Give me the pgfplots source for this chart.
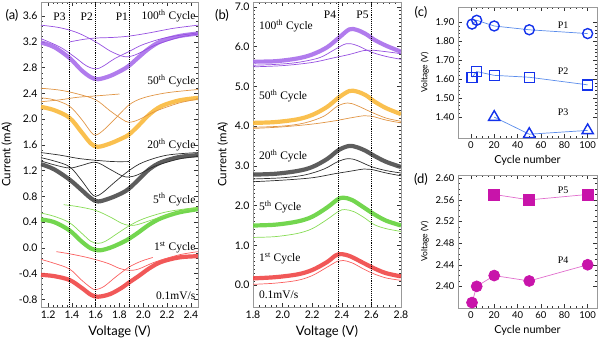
\documentclass[border=0pt]{standalone}
\usepackage{pgfplots}
\pgfplotsset{compat=1.18}
\usepackage{fontspec}
\setmainfont{Lato}
\newfontfamily\tnr{Liberation Serif}

% curve colours
\definecolor{purpK}{RGB}{168,110,235}
\definecolor{purpT}{RGB}{150,80,225}
\definecolor{oranK}{RGB}{250,185,60}
\definecolor{oranT}{RGB}{225,150,70}
\definecolor{blakK}{RGB}{75,75,75}
\definecolor{blakT}{RGB}{45,45,45}
\definecolor{grenK}{RGB}{100,210,60}
\definecolor{grenT}{RGB}{135,220,85}
\definecolor{redK}{RGB}{240,70,70}
\definecolor{redT}{RGB}{250,95,95}
\definecolor{pblue}{RGB}{20,50,235}
\definecolor{lblue}{RGB}{90,140,235}
\definecolor{pmag}{RGB}{200,20,170}
\definecolor{lmag}{RGB}{225,110,205}

\pgfplotsset{
  panel/.style={
    scale only axis,
    axis line style={gray!80},
    tick style={black!80, line width=0.5pt},
    tick align=inside,
    major tick length=4pt,
    minor tick length=2pt,
    /pgf/number format/assume math mode=true,
    tick label style={font=\fontsize{10.5}{12}\selectfont},
    xlabel style={font=\fontsize{13}{15}\selectfont},
    ylabel style={font=\fontsize{11.5}{13}\selectfont},
  },
}
\tikzset{
  thick curve/.style={line width=4.2pt, smooth, tension=0.55, opacity=0.9},
  thin curve/.style={line width=0.7pt, smooth, tension=0.55},
  peakline/.style={black, line width=0.9pt, densely dotted},
  ann/.style={font=\tnr\fontsize{11.5}{13}\selectfont, inner sep=0pt},
  annS/.style={font=\tnr\fontsize{10}{12}\selectfont, inner sep=0pt},
  fmt1/.style={/pgf/number format/.cd, fixed, fixed zerofill, precision=1},
  fmt2/.style={/pgf/number format/.cd, fixed, fixed zerofill, precision=2},
}

\begin{document}
\begin{tikzpicture}[x=1pt,y=1pt]
\useasboundingbox (0,0) rectangle (600,341);

% ---------------- (a) reduction sweeps ----------------
\begin{axis}[panel, at={(41pt,34pt)}, anchor=south west,
  width=157pt, height=305pt,
  xmin=1.14, xmax=2.46, ymin=-0.92, ymax=3.82,
  xtick={1.2,1.4,1.6,1.8,2.0,2.2,2.4},
  ytick={-0.8,-0.4,0,0.4,0.8,1.2,1.6,2.0,2.4,2.8,3.2,3.6},
  minor x tick num=4, minor y tick num=4,
  xticklabel style={fmt1}, yticklabel style={fmt1},
  xlabel={Voltage (V)}, ylabel={Current (mA)}]
% 100th cycle
\addplot[purpK, thick curve] coordinates {(1.14,3.19) (1.25,3.12) (1.38,2.95) (1.48,2.76) (1.56,2.65) (1.62,2.62) (1.72,2.67) (1.82,2.76) (1.88,2.83) (1.96,2.96) (2.05,3.1) (2.15,3.21) (2.3,3.29) (2.46,3.33)};
\addplot[purpT, thin curve] coordinates {(1.14,3.46) (1.3,3.42) (1.45,3.34) (1.6,3.2) (1.72,3.06) (1.82,2.98) (1.88,2.97) (1.96,3.02) (2.1,3.15) (2.3,3.27) (2.46,3.32)};
\addplot[purpT, thin curve] coordinates {(1.14,3.25) (1.3,3.12) (1.42,2.97) (1.52,2.83) (1.6,2.78) (1.66,2.82) (1.76,2.94) (1.88,3.05) (2.0,3.16) (2.2,3.27) (2.46,3.34)};
\addplot[purpT, thin curve] coordinates {(1.38,3.2) (1.5,3.24) (1.6,3.26) (1.75,3.27) (1.88,3.29) (2.05,3.34) (2.25,3.41) (2.46,3.46)};
% 50th cycle
\addplot[oranK, thick curve] coordinates {(1.14,2.19) (1.25,2.14) (1.38,2.02) (1.48,1.8) (1.56,1.62) (1.62,1.57) (1.72,1.62) (1.82,1.7) (1.88,1.76) (1.96,1.9) (2.05,2.07) (2.15,2.2) (2.3,2.29) (2.46,2.33)};
\addplot[oranT, thin curve] coordinates {(1.14,2.33) (1.25,2.3) (1.38,2.2) (1.48,2.0) (1.56,1.8) (1.6,1.75) (1.66,1.82) (1.75,1.98) (1.88,2.22) (2.0,2.33) (2.2,2.41) (2.46,2.46)};
\addplot[oranT, thin curve] coordinates {(1.14,2.48) (1.3,2.45) (1.45,2.39) (1.6,2.3) (1.72,2.13) (1.82,2.0) (1.88,1.95) (1.96,1.99) (2.1,2.12) (2.3,2.25) (2.46,2.31)};
\addplot[oranT, thin curve] coordinates {(1.14,2.27) (1.3,2.3) (1.45,2.34) (1.6,2.36) (1.8,2.39)};
% 20th cycle
\addplot[blakK, thick curve] coordinates {(1.14,1.3) (1.25,1.22) (1.38,1.06) (1.48,0.9) (1.56,0.77) (1.62,0.72) (1.72,0.77) (1.82,0.85) (1.88,0.92) (1.96,1.06) (2.05,1.22) (2.15,1.33) (2.3,1.41) (2.46,1.44)};
\addplot[blakT, thin curve] coordinates {(1.14,1.4) (1.25,1.35) (1.38,1.26) (1.48,1.05) (1.56,0.85) (1.6,0.8) (1.66,0.86) (1.76,1.02) (1.88,1.2) (2.0,1.33) (2.2,1.44) (2.46,1.48)};
\addplot[blakT, thin curve] coordinates {(1.14,1.35) (1.25,1.29) (1.38,1.24) (1.48,1.28) (1.6,1.33) (1.72,1.22) (1.82,1.12) (1.88,1.1) (1.96,1.14) (2.1,1.27) (2.3,1.38) (2.46,1.42)};
\addplot[blakT, thin curve] coordinates {(1.14,1.48) (1.3,1.44) (1.45,1.39) (1.6,1.36) (1.75,1.34) (1.88,1.34)};
% 5th cycle
\addplot[grenK, thick curve] coordinates {(1.14,0.44) (1.25,0.4) (1.38,0.27) (1.48,0.1) (1.56,-0.01) (1.63,-0.04) (1.72,0.0) (1.82,0.08) (1.88,0.14) (1.96,0.24) (2.05,0.36) (2.15,0.46) (2.3,0.55) (2.46,0.6)};
\addplot[grenT, thin curve] coordinates {(1.14,0.54) (1.25,0.49) (1.38,0.39) (1.48,0.23) (1.56,0.1) (1.62,0.07) (1.68,0.1) (1.78,0.22) (1.88,0.34) (2.0,0.45) (2.2,0.56) (2.46,0.63)};
\addplot[grenT, thin curve] coordinates {(1.33,0.67) (1.45,0.64) (1.6,0.58) (1.72,0.48) (1.82,0.38) (1.88,0.35) (1.95,0.36) (2.1,0.45) (2.3,0.56) (2.46,0.62)};
% 1st cycle
\addplot[redK, thick curve] coordinates {(1.14,-0.42) (1.25,-0.44) (1.38,-0.5) (1.48,-0.62) (1.56,-0.73) (1.62,-0.76) (1.72,-0.72) (1.82,-0.62) (1.88,-0.54) (1.96,-0.44) (2.05,-0.32) (2.15,-0.22) (2.3,-0.15) (2.46,-0.13)};
\addplot[redT, thin curve] coordinates {(1.14,-0.18) (1.25,-0.24) (1.38,-0.33) (1.48,-0.5) (1.56,-0.62) (1.6,-0.65) (1.67,-0.6) (1.77,-0.45) (1.88,-0.3) (1.98,-0.21) (2.08,-0.15)};
\addplot[redT, thin curve] coordinates {(1.27,-0.06) (1.4,-0.1) (1.55,-0.16) (1.7,-0.24) (1.8,-0.32) (1.88,-0.35) (1.96,-0.33) (2.1,-0.22) (2.3,-0.11) (2.46,-0.06)};
% peak positions
\addplot[peakline] coordinates {(1.38,-0.92) (1.38,3.82)};
\addplot[peakline] coordinates {(1.60,-0.92) (1.60,3.82)};
\addplot[peakline] coordinates {(1.88,-0.92) (1.88,3.82)};
\node[ann] at (axis cs:1.295,3.59) {P3};
\node[ann] at (axis cs:1.525,3.59) {P2};
\node[ann] at (axis cs:1.82,3.59) {P1};
\node[ann, anchor=east] at (axis cs:2.44,3.6) {100\textsuperscript{th} Cycle};
\node[ann, anchor=east] at (axis cs:2.44,2.59) {50\textsuperscript{th} Cycle};
\node[ann, anchor=east] at (axis cs:2.44,1.6) {20\textsuperscript{th} Cycle};
\node[ann, anchor=east] at (axis cs:2.44,0.75) {5\textsuperscript{th} Cycle};
\node[ann, anchor=east] at (axis cs:2.44,0.01) {1\textsuperscript{st} Cycle};
\node[ann, anchor=east] at (axis cs:2.44,-0.74) {0.1mV/s};
\end{axis}

% ---------------- (b) oxidation sweeps ----------------
\begin{axis}[panel, at={(253pt,34pt)}, anchor=south west,
  width=148pt, height=305pt,
  xmin=1.8, xmax=2.8, ymin=-0.55, ymax=7.12,
  xtick={1.8,2.0,2.2,2.4,2.6,2.8},
  ytick={0,1,2,3,4,5,6,7},
  minor x tick num=4, minor y tick num=9,
  xticklabel style={fmt1}, yticklabel style={fmt1},
  xlabel={Voltage (V)}, ylabel={Current (mA)}]
% 100th cycle
\addplot[purpK, thick curve] coordinates {(1.8,5.62) (1.95,5.63) (2.1,5.7) (2.2,5.8) (2.3,5.98) (2.38,6.22) (2.45,6.43) (2.5,6.42) (2.56,6.32) (2.62,6.17) (2.7,6.02) (2.8,5.87)};
\addplot[purpT, thin curve] coordinates {(1.8,5.53) (1.95,5.55) (2.1,5.6) (2.25,5.72) (2.35,5.92) (2.43,6.07) (2.5,6.03) (2.6,5.86) (2.7,5.75) (2.8,5.68)};
\addplot[purpT, thin curve] coordinates {(1.8,5.49) (2.0,5.52) (2.2,5.6) (2.35,5.72) (2.45,5.8) (2.55,5.9) (2.6,5.91) (2.7,5.87) (2.8,5.82)};
% 50th cycle
\addplot[oranK, thick curve] coordinates {(1.8,4.08) (1.95,4.1) (2.1,4.17) (2.2,4.28) (2.3,4.48) (2.38,4.72) (2.45,4.88) (2.5,4.87) (2.56,4.78) (2.62,4.62) (2.7,4.45) (2.8,4.3)};
\addplot[oranT, thin curve] coordinates {(1.8,3.97) (2.0,4.0) (2.15,4.08) (2.28,4.25) (2.37,4.5) (2.44,4.58) (2.5,4.52) (2.6,4.35) (2.7,4.2) (2.8,4.12)};
\addplot[oranT, thin curve] coordinates {(1.8,3.94) (2.0,3.98) (2.2,4.05) (2.35,4.13) (2.45,4.2) (2.55,4.26) (2.6,4.25) (2.7,4.15) (2.8,4.08)};
% 20th cycle
\addplot[blakK, thick curve] coordinates {(1.8,2.78) (1.95,2.8) (2.1,2.87) (2.2,2.97) (2.3,3.17) (2.38,3.4) (2.45,3.5) (2.5,3.47) (2.56,3.38) (2.62,3.25) (2.7,3.1) (2.8,2.97)};
\addplot[blakT, thin curve] coordinates {(1.8,2.67) (2.0,2.7) (2.15,2.77) (2.28,2.92) (2.37,3.1) (2.44,3.18) (2.5,3.14) (2.6,2.98) (2.7,2.88) (2.8,2.82)};
\addplot[blakT, thin curve] coordinates {(1.8,2.6) (2.0,2.64) (2.2,2.7) (2.35,2.8) (2.45,2.86) (2.55,2.92) (2.6,2.91) (2.7,2.82) (2.8,2.75)};
% 5th cycle
\addplot[grenK, thick curve] coordinates {(1.8,1.5) (1.95,1.52) (2.1,1.6) (2.2,1.72) (2.3,1.95) (2.37,2.15) (2.41,2.2) (2.47,2.14) (2.55,1.95) (2.62,1.78) (2.7,1.62) (2.8,1.5)};
\addplot[grenT, thin curve] coordinates {(1.8,1.2) (1.95,1.22) (2.1,1.3) (2.2,1.42) (2.3,1.65) (2.38,1.86) (2.42,1.9) (2.48,1.85) (2.55,1.7) (2.62,1.52) (2.7,1.42) (2.8,1.35)};
% 1st cycle
\addplot[redK, thick curve] coordinates {(1.8,0.17) (1.95,0.2) (2.1,0.27) (2.2,0.38) (2.3,0.58) (2.36,0.75) (2.4,0.78) (2.46,0.72) (2.55,0.55) (2.62,0.42) (2.7,0.3) (2.8,0.22)};
\addplot[redT, thin curve] coordinates {(1.8,0.02) (1.95,0.05) (2.1,0.12) (2.2,0.24) (2.3,0.45) (2.37,0.6) (2.41,0.62) (2.47,0.56) (2.55,0.4) (2.62,0.28) (2.7,0.18) (2.8,0.12)};
% peak positions
\addplot[peakline] coordinates {(2.38,-0.55) (2.38,7.12)};
\addplot[peakline] coordinates {(2.60,-0.55) (2.60,7.12)};
\node[ann] at (axis cs:2.32,6.8) {P4};
\node[ann] at (axis cs:2.54,6.8) {P5};
\node[ann, anchor=west] at (axis cs:1.84,6.52) {100\textsuperscript{th} Cycle};
\node[ann, anchor=west] at (axis cs:1.84,4.75) {50\textsuperscript{th} Cycle};
\node[ann, anchor=west] at (axis cs:1.84,3.25) {20\textsuperscript{th} Cycle};
\node[ann, anchor=west] at (axis cs:1.84,1.97) {5\textsuperscript{th} Cycle};
\node[ann, anchor=west] at (axis cs:1.84,0.67) {1\textsuperscript{st} Cycle};
\node[ann, anchor=west] at (axis cs:1.84,-0.25) {0.1mV/s};
\end{axis}

% ---------------- (c) reduction peak positions ----------------
\begin{axis}[panel, at={(458pt,203pt)}, anchor=south west,
  width=139pt, height=131pt,
  xmin=-11, xmax=108, ymin=1.29, ymax=1.98,
  xtick={0,20,40,60,80,100},
  ytick={1.4,1.5,1.6,1.7,1.8,1.9},
  minor x tick num=3, minor y tick num=4,
  yticklabel style={fmt2},
  tick label style={font=\fontsize{9.5}{11}\selectfont},
  xlabel={Cycle number}, ylabel={Voltage (V)},
  xlabel style={font=\fontsize{11}{13}\selectfont},
  ylabel style={font=\fontsize{8.5}{10}\selectfont},
  clip=false]
\addplot[lblue, line width=0.7pt, mark=o, mark size=5pt, mark options={pblue, line width=1.4pt}] coordinates {(1,1.89) (5,1.91) (20,1.88) (50,1.86) (100,1.84)};
\addplot[lblue, line width=0.7pt, mark=square, mark size=5pt, mark options={pblue, line width=1.4pt}] coordinates {(1,1.61) (5,1.64) (20,1.62) (50,1.61) (100,1.57)};
\addplot[lblue, line width=0.7pt, mark=triangle, mark size=6.5pt, mark options={pblue, line width=1.4pt}] coordinates {(20,1.40) (50,1.31) (100,1.33)};
\node[annS] at (axis cs:79,1.885) {P1};
\node[annS] at (axis cs:79,1.64) {P2};
\node[annS] at (axis cs:79,1.425) {P3};
\end{axis}

% ---------------- (d) oxidation peak positions ----------------
\begin{axis}[panel, at={(458pt,33pt)}, anchor=south west,
  width=139pt, height=133pt,
  xmin=-11, xmax=108, ymin=2.36, ymax=2.606,
  xtick={0,20,40,60,80,100},
  ytick={2.40,2.44,2.48,2.52,2.56,2.60},
  minor x tick num=3, minor y tick num=3,
  yticklabel style={fmt2},
  tick label style={font=\fontsize{9.5}{11}\selectfont},
  xlabel={Cycle number}, ylabel={Voltage (V)},
  xlabel style={font=\fontsize{11}{13}\selectfont},
  ylabel style={font=\fontsize{8.5}{10}\selectfont},
  clip=false]
\addplot[lmag, line width=0.7pt, mark=square*, mark size=5.5pt, mark options={pmag}] coordinates {(20,2.57) (50,2.56) (100,2.57)};
\addplot[lmag, line width=0.7pt, mark=*, mark size=5.5pt, mark options={pmag}] coordinates {(1,2.37) (5,2.40) (20,2.42) (50,2.41) (100,2.44)};
\node[annS] at (axis cs:79,2.578) {P5};
\node[annS] at (axis cs:79,2.448) {P4};
\end{axis}

% panel letters
\node[font=\fontsize{13}{15}\selectfont] at (12,326) {(a)};
\node[font=\fontsize{13}{15}\selectfont] at (222,326) {(b)};
\node[font=\fontsize{13}{15}\selectfont] at (421,329) {(c)};
\node[font=\fontsize{13}{15}\selectfont] at (421,162) {(d)};
\end{tikzpicture}
\end{document}
